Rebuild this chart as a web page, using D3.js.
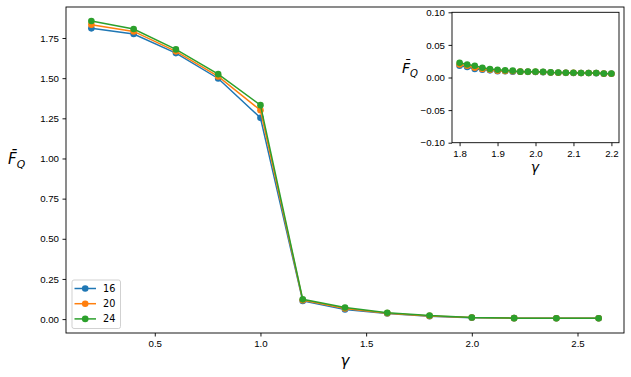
<!DOCTYPE html>
<html>
<head>
<meta charset="utf-8">
<title>F_Q vs gamma</title>
<style>
  body { margin: 0; background: #fff; }
  svg { font-family: "DejaVu Sans", sans-serif; }
  .axis text { font-size: 9.7px; fill: #000; }
  .axis path, .axis line { stroke: #000; stroke-width: 0.9; }
  .lbl { font-family: "DejaVu Sans", sans-serif; font-style: italic; fill: #000; }
</style>
</head>
<body>
<svg width="631" height="377"></svg>
<script src="https://d3js.org/d3.v7.min.js"></script>
<script>
// main data
var gamma = [0.2, 0.4, 0.6, 0.8, 1.0, 1.2, 1.4, 1.6, 1.8, 2.0, 2.2, 2.4, 2.6];
var fq16 = [1.810, 1.775, 1.656, 1.498, 1.253, 0.113, 0.060, 0.035, 0.018, 0.009, 0.006, 0.005, 0.005];
var fq20 = [1.833, 1.791, 1.667, 1.511, 1.300, 0.118, 0.066, 0.037, 0.020, 0.010, 0.006, 0.005, 0.005];
var fq24 = [1.856, 1.806, 1.679, 1.525, 1.332, 0.123, 0.072, 0.040, 0.022, 0.010, 0.006, 0.005, 0.005];
var sizes = ["16", "20", "24"];
var colors = ["#1f77b4", "#ff7f0e", "#2ca02c"];

// inset data (zoom on 1.8..2.2)
var gammaIn = [1.80, 1.82, 1.84, 1.86, 1.88, 1.90, 1.92, 1.94, 1.96, 1.98, 2.00,
               2.02, 2.04, 2.06, 2.08, 2.10, 2.12, 2.14, 2.16, 2.18, 2.20];
var in16 = [0.018, 0.016, 0.013, 0.012, 0.011, 0.0097, 0.0095, 0.009, 0.0088, 0.0087, 0.0085,
            0.0082, 0.0075, 0.0073, 0.0071, 0.007, 0.0068, 0.0068, 0.0067, 0.0058, 0.0057];
var in20 = [0.020, 0.018, 0.015, 0.013, 0.012, 0.0105, 0.010, 0.0097, 0.009, 0.0088, 0.0087,
            0.0085, 0.0077, 0.0074, 0.0072, 0.0071, 0.0069, 0.0069, 0.0068, 0.0059, 0.0058];
var in24 = [0.0225, 0.020, 0.018, 0.015, 0.013, 0.012, 0.011, 0.0105, 0.009, 0.009, 0.009,
            0.0087, 0.0078, 0.0075, 0.0073, 0.0072, 0.007, 0.007, 0.007, 0.006, 0.006];

var xTicks = [0.5, 1.0, 1.5, 2.0, 2.5];
var yTicks = [0, 0.25, 0.5, 0.75, 1.0, 1.25, 1.5, 1.75];
var xTicksIn = [1.8, 1.9, 2.0, 2.1, 2.2];
var yTicksIn = [-0.1, -0.05, 0, 0.05, 0.1];

var svg = d3.select("svg");

function panel(g, x, y, xs, series, xt, yt, xf, yf) {
  var w = x.range()[1] - x.range()[0], h = y.range()[0] - y.range()[1];
  g.append("rect").attr("x", x.range()[0]).attr("y", y.range()[1])
    .attr("width", w).attr("height", h).attr("fill", "#fff");

  var line = d3.line().x(function(d) { return x(d[0]); }).y(function(d) { return y(d[1]); });
  series.forEach(function(vals, i) {
    var pts = xs.map(function(v, j) { return [v, vals[j]]; });
    g.append("path").attr("d", line(pts))
      .attr("fill", "none").attr("stroke", colors[i]).attr("stroke-width", 1.5);
    g.selectAll(null).data(pts).enter().append("circle")
      .attr("cx", function(d) { return x(d[0]); })
      .attr("cy", function(d) { return y(d[1]); })
      .attr("r", 3.3).attr("fill", colors[i]);
  });

  g.append("g").attr("class", "axis")
    .attr("transform", "translate(0," + y.range()[0] + ")")
    .call(d3.axisBottom(x).tickValues(xt).tickFormat(d3.format(xf)).tickSize(3.5).tickPadding(3.5).tickSizeOuter(0));
  g.append("g").attr("class", "axis")
    .attr("transform", "translate(" + x.range()[0] + ",0)")
    .call(d3.axisLeft(y).tickValues(yt).tickFormat(d3.format(yf)).tickSize(3.5).tickPadding(3.5).tickSizeOuter(0));
  g.selectAll(".axis .domain").remove();
  g.append("rect").attr("x", x.range()[0]).attr("y", y.range()[1])
    .attr("width", w).attr("height", h)
    .attr("fill", "none").attr("stroke", "#000").attr("stroke-width", 0.9);
}

function fqLabel(px, py, size) {
  var t = svg.append("text").attr("class", "lbl")
    .attr("x", px).attr("y", py).attr("font-size", size);
  t.append("tspan").text("F\u0304");
  t.append("tspan").attr("dy", size * 0.25).attr("font-size", size * 0.72).text("Q");
}

// main axes
var x = d3.scaleLinear().domain([0.08, 2.72]).range([66, 624]);
var y = d3.scaleLinear().domain([-0.0865, 1.943]).range([333, 7]);
panel(svg.append("g"), x, y, gamma, [fq16, fq20, fq24], xTicks, yTicks, ".1f", ".2f");

fqLabel(8, 164, 15);
svg.append("text").attr("class", "lbl").attr("x", 345).attr("y", 366)
  .attr("text-anchor", "middle").attr("font-size", 15).text("\u03b3");

// legend
var leg = svg.append("g").attr("transform", "translate(72,280)");
leg.append("rect").attr("width", 48.5).attr("height", 48.5).attr("rx", 2)
  .attr("fill", "#fff").attr("fill-opacity", 0.8).attr("stroke", "#ccc").attr("stroke-width", 0.9);
sizes.forEach(function(s, i) {
  var yy = 8.5 + i * 15.2;
  leg.append("line").attr("x1", 2.5).attr("x2", 24).attr("y1", yy).attr("y2", yy)
    .attr("stroke", colors[i]).attr("stroke-width", 1.5);
  leg.append("circle").attr("cx", 13.2).attr("cy", yy).attr("r", 3.3).attr("fill", colors[i]);
  leg.append("text").attr("x", 31).attr("y", yy).attr("dy", "0.35em")
    .attr("font-size", 9.7).text(s);
});

// inset axes
var xi = d3.scaleLinear().domain([1.78, 2.22]).range([452, 619]);
var yi = d3.scaleLinear().domain([-0.1, 0.1]).range([142.7, 12.3]);
panel(svg.append("g"), xi, yi, gammaIn, [in16, in20, in24], xTicksIn, yTicksIn, ".1f", ".2f");

fqLabel(402, 73, 14);
svg.append("text").attr("class", "lbl").attr("x", 535).attr("y", 172)
  .attr("text-anchor", "middle").attr("font-size", 14).text("\u03b3");
</script>
</body>
</html>
